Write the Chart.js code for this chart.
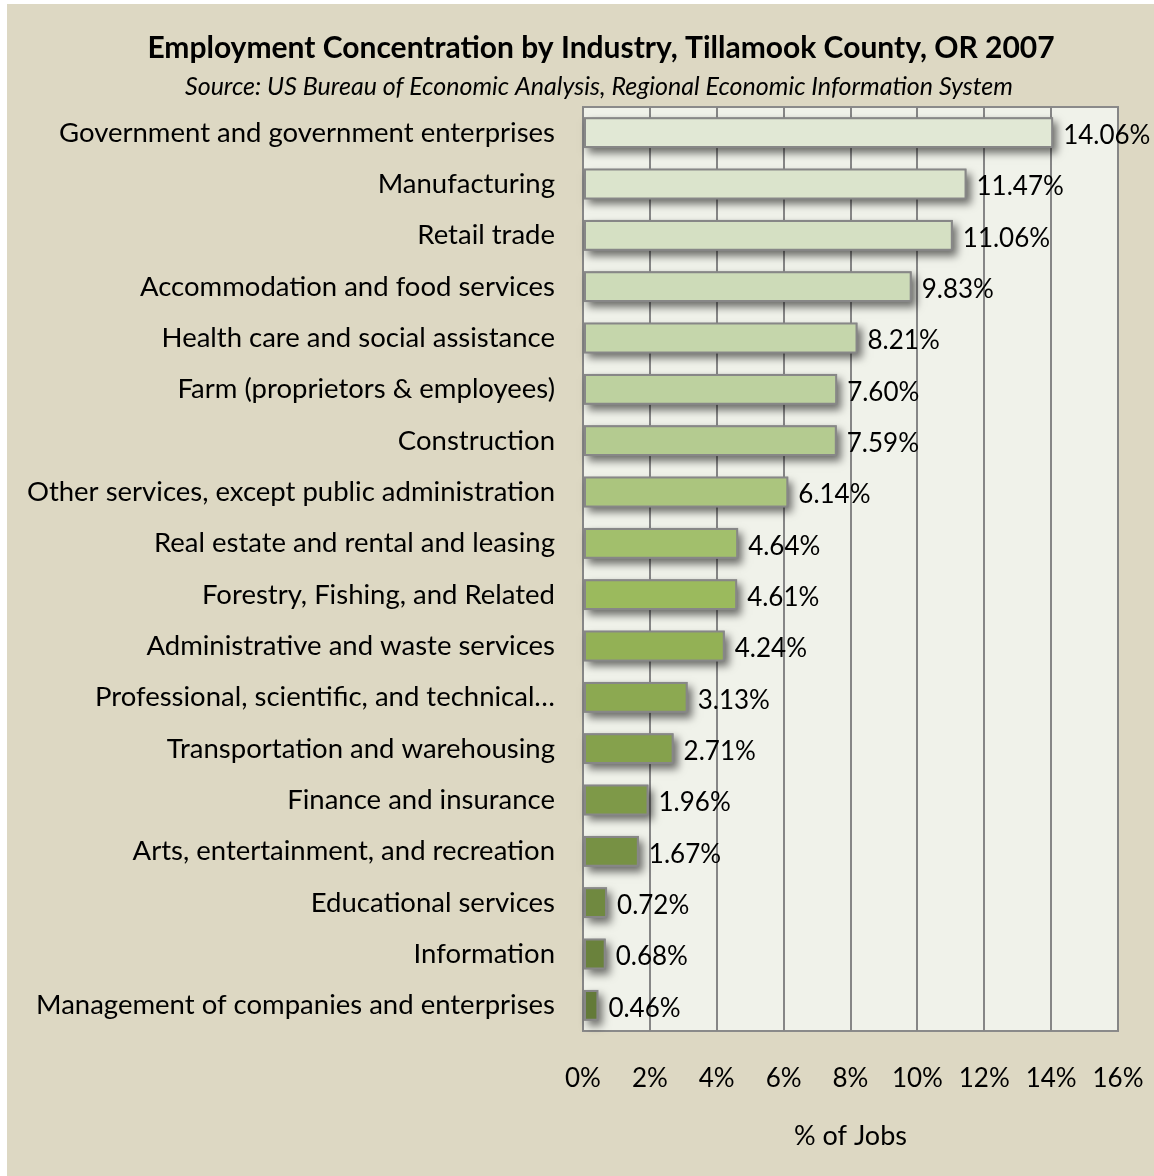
<!DOCTYPE html>
<html>
<head>
<meta charset="utf-8">
<script src="https://cdn.jsdelivr.net/npm/chart.js@4.4.0/dist/chart.umd.min.js"></script>
<style>
  html, body { margin: 0; background: #fff; }
  #frame { position: absolute; left: 7px; top: 4px; width: 1147px; height: 1172px; background: #ddd8c3; }
</style>
</head>
<body>
<div id="frame"><canvas id="chart" width="1147" height="1172"></canvas></div>
<script>
const chartTitle = 'Employment Concentration by Industry, Tillamook County, OR 2007';
const chartSource = 'Source: US Bureau of Economic Analysis, Regional Economic Information System';

const industries = [
  'Government and government enterprises',
  'Manufacturing',
  'Retail trade',
  'Accommodation and food services',
  'Health care and social assistance',
  'Farm (proprietors & employees)',
  'Construction',
  'Other services, except public administration',
  'Real estate and rental and leasing',
  'Forestry, Fishing, and Related',
  'Administrative and waste services',
  'Professional, scientific, and technical\u2026',
  'Transportation and warehousing',
  'Finance and insurance',
  'Arts, entertainment, and recreation',
  'Educational services',
  'Information',
  'Management of companies and enterprises'
];

const jobShare = [14.06, 11.47, 11.06, 9.83, 8.21, 7.60, 7.59, 6.14, 4.64, 4.61, 4.24, 3.13, 2.71, 1.96, 1.67, 0.72, 0.68, 0.46];

// light-to-dark olive ramp, one per bar
const barColors = [
  '#e1e8d5', '#dbe4cc', '#d5e0c3', '#cddbb8', '#c5d6ab', '#bdd19f',
  '#b4cb90', '#abc57e', '#a2bf6c', '#9bba5d', '#93b155', '#8ca951',
  '#85a14c', '#7e9948', '#779144', '#708940', '#6a823c', '#637a38'
];

const xMax = 16;
const xStep = 2;

const FONT = "Lato, 'Open Sans', sans-serif";
const TEXT = '#000';

// title block sits a little right of the canvas centre, over the plot
const headings = {
  id: 'headings',
  afterDraw(chart) {
    const ctx = chart.ctx;
    ctx.save();
    ctx.fillStyle = TEXT;
    ctx.textAlign = 'center';
    ctx.textBaseline = 'middle';
    ctx.font = 'bold 30px ' + FONT;
    ctx.fillText(chartTitle, 594, 44);
    ctx.font = 'italic 25px ' + FONT;
    ctx.fillText(chartSource, 592, 83);
    ctx.restore();
  }
};

// ivory plot background with a grey frame
const plotFrame = {
  id: 'plotFrame',
  beforeDraw(chart) {
    const { ctx, chartArea: a } = chart;
    ctx.save();
    ctx.fillStyle = '#f0f2ea';
    ctx.fillRect(a.left, a.top, a.width, a.height);
    ctx.strokeStyle = '#8a8a8a';
    ctx.lineWidth = 2;
    ctx.strokeRect(a.left, a.top, a.width, a.height);
    ctx.restore();
  }
};

// soft drop shadow under each bar, painted before the bars themselves
const barShadow = {
  id: 'barShadow',
  beforeDatasetsDraw(chart) {
    const ctx = chart.ctx;
    const meta = chart.getDatasetMeta(0);
    ctx.save();
    ctx.shadowColor = 'rgba(0,0,0,0.55)';
    ctx.shadowBlur = 8;
    ctx.shadowOffsetX = 4;
    ctx.shadowOffsetY = 5;
    ctx.fillStyle = '#888';
    meta.data.forEach(bar => {
      const { x, y, base, height } = bar.getProps(['x', 'y', 'base', 'height']);
      ctx.fillRect(base, y - height / 2, x - base, height);
    });
    ctx.restore();
  }
};

const valueLabels = {
  id: 'valueLabels',
  afterDatasetsDraw(chart) {
    const ctx = chart.ctx;
    const meta = chart.getDatasetMeta(0);
    ctx.save();
    ctx.font = '26px ' + FONT;
    ctx.fillStyle = TEXT;
    ctx.textAlign = 'left';
    ctx.textBaseline = 'middle';
    meta.data.forEach((bar, i) => {
      ctx.fillText(jobShare[i].toFixed(2) + '%', bar.x + 10, bar.y + 3);
    });
    ctx.restore();
  }
};

new Chart(document.getElementById('chart'), {
  type: 'bar',
  data: {
    labels: industries,
    datasets: [{
      data: jobShare,
      backgroundColor: barColors,
      borderColor: '#878787',
      borderWidth: 2,
      borderSkipped: false,
      barPercentage: 0.6,
      categoryPercentage: 1.0
    }]
  },
  options: {
    indexAxis: 'y',
    animation: false,
    responsive: false,
    devicePixelRatio: 1,
    layout: { padding: { left: 0, right: 36, top: 103, bottom: 24 } },
    plugins: {
      legend: { display: false },
      tooltip: { enabled: false },
      title: { display: false }
    },
    scales: {
      x: {
        min: 0,
        max: xMax,
        ticks: {
          stepSize: xStep,
          callback: v => v + '%',
          color: TEXT,
          font: { family: FONT, size: 26 },
          padding: 32
        },
        grid: { color: '#868686', lineWidth: 2, drawTicks: false },
        border: { display: false },
        title: {
          display: true,
          text: '% of Jobs',
          color: TEXT,
          font: { family: FONT, size: 27 },
          padding: { top: 20, bottom: 0 }
        },
        afterFit(scale) {
          scale.height = 121;
          scale.paddingLeft = 0;
          scale.paddingRight = 0;
        }
      },
      y: {
        grid: { display: false },
        border: { display: false },
        ticks: {
          autoSkip: false,
          color: TEXT,
          font: { family: FONT, size: 27.5 },
          padding: 20
        },
        afterFit(scale) {
          scale.width = 576;
          scale.paddingTop = 0;
          scale.paddingBottom = 0;
        }
      }
    }
  },
  plugins: [plotFrame, barShadow, valueLabels, headings]
});
</script>
</body>
</html>
